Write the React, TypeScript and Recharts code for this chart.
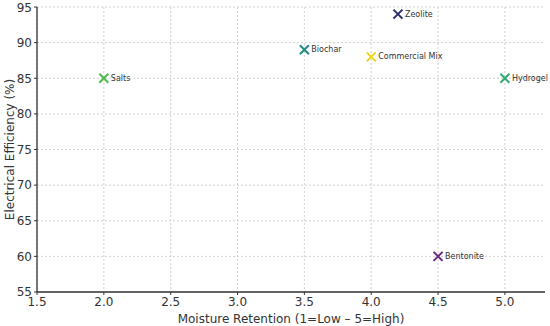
import React from 'react';
import { ScatterChart, Scatter, XAxis, YAxis, CartesianGrid } from 'recharts';

const materials = ['Salts', 'Biochar', 'Commercial Mix', 'Zeolite', 'Bentonite', 'Hydrogel'];
const moisture = [2.0, 3.5, 4.0, 4.2, 4.5, 5.0];
const efficiency = [85, 89, 88, 94, 60, 85];
const colors = ['#52b94f', '#228c84', '#efd31e', '#2b2c6c', '#6e2a7a', '#2fae71'];

const xTicks = [1.5, 2.0, 2.5, 3.0, 3.5, 4.0, 4.5, 5.0];
const yTicks = [55, 60, 65, 70, 75, 80, 85, 90, 95];

const font = 'DejaVu Sans, sans-serif';

const CrossMarker = (props: any) => {
  const { cx, cy, fill, payload } = props;
  const s = 4.5;
  return (
    <g>
      <path
        d={`M${cx - s},${cy - s}L${cx + s},${cy + s}M${cx - s},${cy + s}L${cx + s},${cy - s}`}
        stroke={fill}
        strokeWidth={2}
        fill="none"
      />
      <text x={cx + 7} y={cy} dominantBaseline="central" fontSize={8} fontFamily={font} fill="#333">
        {payload.name}
      </text>
    </g>
  );
};

export default function App() {
  return (
    <div style={{ position: 'absolute', left: 0, top: 0 }}>
      <ScatterChart width={550} height={326} margin={{ top: 7, right: 5, bottom: 0, left: 0 }}>
        <CartesianGrid stroke="#d2d2d2" strokeDasharray="2 2" horizontalValues={yTicks} verticalValues={xTicks} />
        <XAxis
          type="number"
          dataKey="x"
          domain={[1.5, 5.3]}
          ticks={xTicks}
          tickFormatter={(v: number) => v.toFixed(1)}
          height={34}
          axisLine={{ stroke: '#333', strokeWidth: 1.3 }}
          tickLine={{ stroke: '#333' }}
          tickSize={3}
          tick={{ fill: '#333', fontSize: 12, fontFamily: font }}
          label={{ value: 'Moisture Retention (1=Low – 5=High)', position: 'insideBottom', offset: 3, fill: '#333', fontSize: 12, fontFamily: font }}
        />
        <YAxis
          type="number"
          dataKey="y"
          domain={[55, 95]}
          ticks={yTicks}
          width={37}
          axisLine={{ stroke: '#333', strokeWidth: 1.3 }}
          tickLine={{ stroke: '#333' }}
          tickSize={3}
          tick={{ fill: '#333', fontSize: 12, fontFamily: font }}
          label={{ value: 'Electrical Efficiency (%)', angle: -90, position: 'insideLeft', offset: 10, style: { textAnchor: 'middle' }, fill: '#333', fontSize: 12, fontFamily: font }}
        />
        {materials.map((name, i) => (
          <Scatter
            key={name}
            name={name}
            data={[{ x: moisture[i], y: efficiency[i], name }]}
            fill={colors[i]}
            shape={CrossMarker}
            isAnimationActive={false}
          />
        ))}
      </ScatterChart>
    </div>
  );
}
